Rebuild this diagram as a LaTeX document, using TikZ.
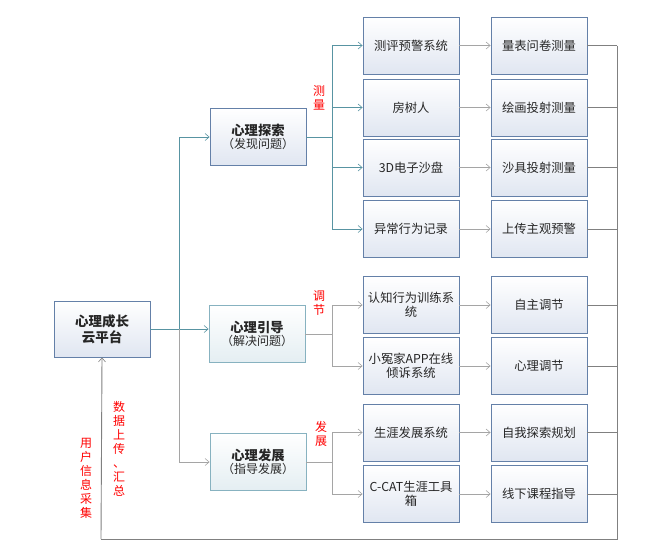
\documentclass[tikz,border=0pt]{standalone}
\usepackage{fontspec}
\setmainfont{Noto Sans CJK SC}
\usetikzlibrary{arrows.meta}
\definecolor{boxborder}{RGB}{100,128,168}
\definecolor{boxfill}{RGB}{224,230,241}
\definecolor{tealborder}{RGB}{135,178,192}
\definecolor{tealfill}{RGB}{228,238,242}
\definecolor{tealline}{RGB}{88,148,162}
\definecolor{grayline}{RGB}{165,165,165}
\definecolor{darkline}{RGB}{128,128,128}
\tikzset{
  bx/.style={rectangle, draw=boxborder, line width=0.9pt, top color=white, bottom color=boxfill,
    minimum width=96pt, minimum height=57pt, text width=90pt, align=center, inner sep=2pt,
    font=\fontsize{12.3}{14.5}\selectfont, text=black!85},
  tbx/.style={bx, draw=tealborder, top color=white, bottom color=tealfill},
  redlbl/.style={text=red, align=center, font=\fontsize{12}{14.5}\selectfont, inner sep=0pt},
  arr/.style={-{Straight Barb[length=4pt,width=7pt,line width=0.6pt]}},
  tl/.style={draw=tealline, line width=0.9pt},
  gl/.style={draw=grayline, line width=0.9pt},
  dl/.style={draw=darkline, line width=0.9pt},
}
\newcommand{\ttl}[2]{{\bfseries\fontsize{13.3}{16}\selectfont #1}\\[-1pt]{\fontsize{12}{14}\selectfont （#2）}}
\begin{document}
\begin{tikzpicture}[x=1pt,y=-1pt]
\useasboundingbox (0,0) rectangle (657,552);
% main
\node[bx, minimum height=56pt, font=\bfseries\fontsize{13.5}{16}\selectfont] (main) at (102,329) {心理成长\\云平台};
% level 1
\node[bx] (e) at (258,137) {\ttl{心理探索}{发现问题}};
\node[tbx] (g) at (257,334) {\ttl{心理引导}{解决问题}};
\node[tbx] (f) at (258,462) {\ttl{心理发展}{指导发展}};
% level 2
\node[bx] (a1) at (411,45.5) {测评预警系统};
\node[bx] (a2) at (411,107.5) {房树人};
\node[bx] (a3) at (411,167.5) {3D电子沙盘};
\node[bx] (a4) at (411,229) {异常行为记录};
\node[bx] (b1) at (411,305) {认知行为训练系\\统};
\node[bx] (b2) at (411,366) {小冤家APP在线\\倾诉系统};
\node[bx] (c1) at (411,432.5) {生涯发展系统};
\node[bx] (c2) at (411,494) {C-CAT生涯工具\\箱};
% level 3
\node[bx] (r1) at (539,45.5) {量表问卷测量};
\node[bx] (r2) at (539,107.5) {绘画投射测量};
\node[bx] (r3) at (539,167.5) {沙具投射测量};
\node[bx] (r4) at (539,229) {上传主观预警};
\node[bx] (s1) at (539,305) {自主调节};
\node[bx] (s2) at (539,366) {心理调节};
\node[bx] (t1) at (539,432.5) {自我探索规划};
\node[bx] (t2) at (539,494) {线下课程指导};
% junctions
\coordinate (j0) at (179,329);
\coordinate (je) at (332,137);
\coordinate (jg) at (332,334);
\coordinate (jf) at (332,462);
\coordinate (rc) at (617,539);
\coordinate (bl) at (101,539);
% trunk
\draw[tl] (main.east) -- (j0);
\draw[tl,arr] (j0) |- (e.west);
\draw[tl,arr] (j0) -- (g.west |- j0);
\draw[gl,arr] (j0) |- (f.west);
% branch explore
\draw[tl] (e.east) -- (je);
\foreach \n in {a1,a2,a3,a4} \draw[tl,arr] (je) |- (\n.west);
% branch guide
\draw[gl] (g.east) -- (jg);
\foreach \n in {b1,b2} \draw[gl,arr] (jg) |- (\n.west);
% branch develop
\draw[gl] (f.east) -- (jf);
\foreach \n in {c1,c2} \draw[gl,arr] (jf) |- (\n.west);
% level2 -> level3
\foreach \p/\q in {a1/r1,a2/r2,a3/r3,a4/r4,b1/s1,b2/s2,c1/t1,c2/t2}
  \draw[gl,arr] (\p.east) -- (\q.west);
% collector
\foreach \n in {r1,r2,r3,r4,s1,s2,t1,t2} \draw[dl] (\n.east) -- (\n.east -| rc);
\draw[dl] (r1.east -| rc) -- (rc) -- (bl);
\draw[dl,arr] (bl) -- (main.south);
% labels
\node[redlbl] (l1) at (319,98) {测\\量};
\node[redlbl] (l2) at (319,303) {调\\节};
\node[redlbl] (l3) at (321,434) {发\\展};
\node[redlbl, font=\fontsize{12}{14}\selectfont] (l4) at (119,449) {数\\据\\上\\传\\、\\汇\\总};
\node[redlbl, font=\fontsize{12}{14}\selectfont] (l5) at (86,478) {用\\户\\信\\息\\采\\集};
\end{tikzpicture}
\end{document}
